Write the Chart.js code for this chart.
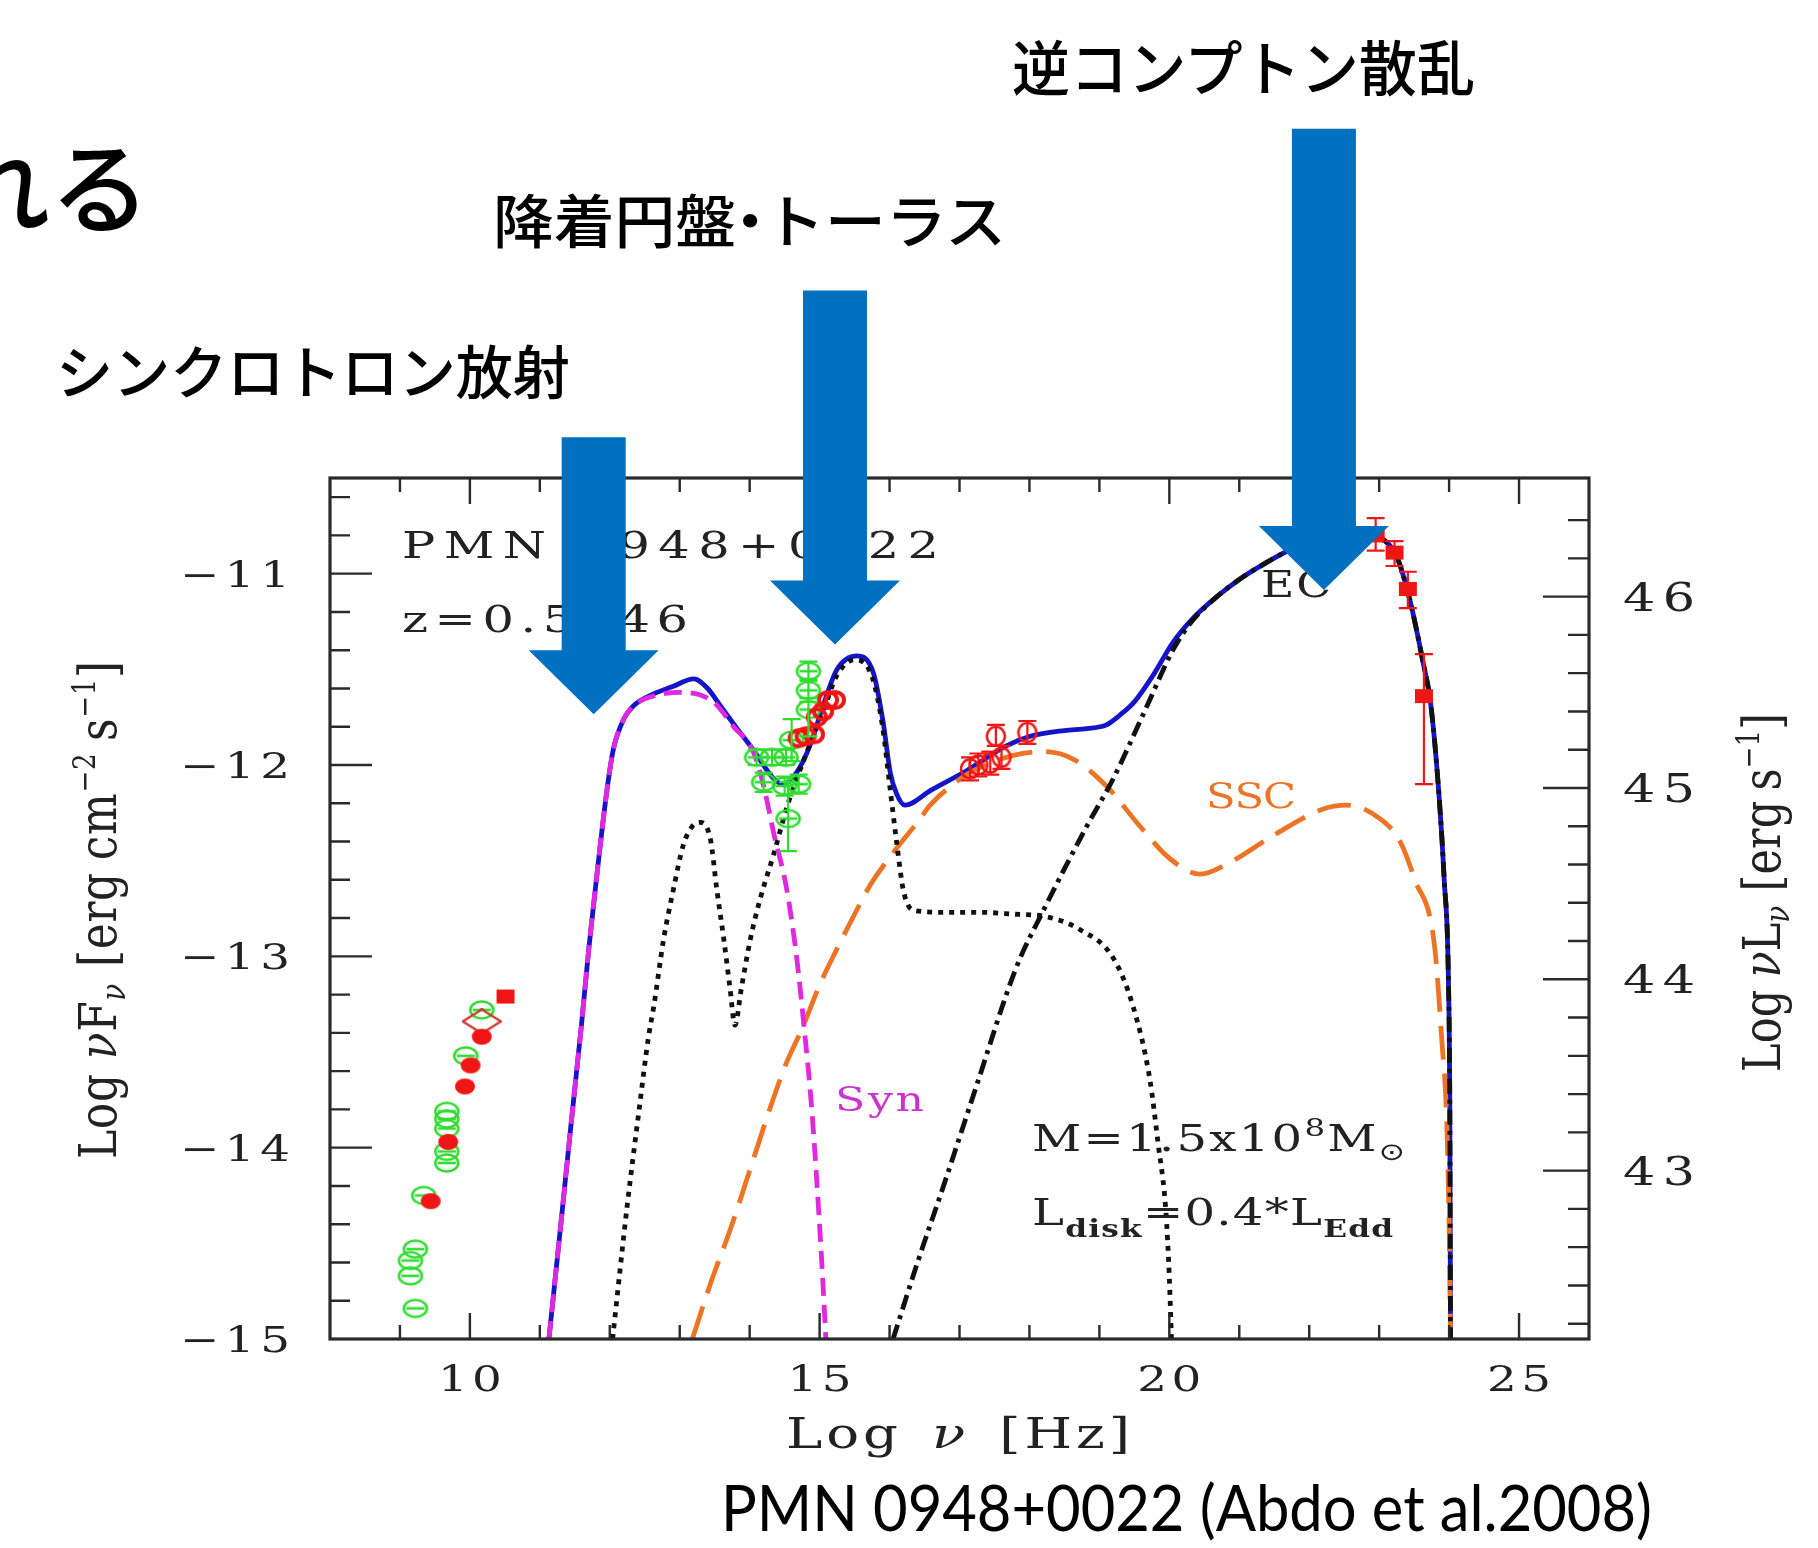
<!DOCTYPE html>
<html>
<head>
<meta charset="utf-8">
<script src="https://cdn.jsdelivr.net/npm/chart.js"></script>
<style>
  html, body { margin: 0; padding: 0; background: #fff; }
  #wrap { position: relative; width: 1818px; height: 1548px; overflow: hidden; background: #fff; }
  #sed { position: absolute; left: 0; top: 0; }
  .slide-text { position: absolute; white-space: nowrap; line-height: 1; color: #000; transform-origin: 0 50%; }
  .jp { font-family: "Noto Sans CJK JP", sans-serif; font-weight: 500; }
  .cap { font-family: Lato, "Noto Sans", sans-serif; }
  .dot { margin: 0 -0.27em; }
</style>
</head>
<body>
<div id="wrap">
  <canvas id="sed" width="1818" height="1548"></canvas>
  <div class="slide-text jp" data-r="150" data-cy="183" style="font-size:100px">れる</div>
  <div class="slide-text jp" data-x="1012" data-cy="65" data-w="463" style="font-size:60px">逆コンプトン散乱</div>
  <div class="slide-text jp" data-x="493" data-cy="218" data-w="513" style="font-size:58px">降着円盤<span class="dot">・</span>トーラス</div>
  <div class="slide-text jp" data-x="56" data-cy="369" data-w="514" style="font-size:58px">シンクロトロン放射</div>
  <div class="slide-text cap" data-x="721" data-cy="1507" data-w="931" style="font-size:64px">PMN 0948+0022 (Abdo et al.2008)</div>
</div>
<script>
// ---- axes ----
const xTicks  = [10, 15, 20, 25];
const yTicks  = [-11, -12, -13, -14, -15];
const y2Ticks = [43, 44, 45, 46];
const lumOffset = 57.12;   // log nuL_nu - log nuF_nu

// ---- model curves (log nu, log nuF_nu) ----
const totalX = [11.13, 11.32, 11.44, 11.60, 11.70, 11.82, 11.96, 12.05, 12.20, 12.34, 12.62, 12.90, 13.20, 13.40, 13.58, 13.80, 14.05, 14.34, 14.48, 14.67, 14.86, 15.05, 15.25, 15.53, 15.77, 15.91, 16.01, 16.10, 16.22, 16.60, 17.10, 17.67, 18.01, 18.50, 18.82, 19.10, 19.29, 19.50, 19.77, 20.05, 20.32, 20.68, 21.00, 21.35, 21.70, 22.00, 22.40, 22.70, 22.96, 23.25, 23.44, 23.62, 23.74, 23.86, 23.93, 23.99, 24.01, 24.02];
const totalY = [-15.00, -14.33, -13.90, -13.34, -12.96, -12.56, -12.13, -11.92, -11.76, -11.69, -11.63, -11.59, -11.55, -11.60, -11.69, -11.80, -11.92, -12.07, -12.10, -12.04, -11.90, -11.69, -11.50, -11.43, -11.52, -11.78, -12.04, -12.15, -12.21, -12.13, -12.03, -11.90, -11.85, -11.82, -11.81, -11.79, -11.74, -11.67, -11.53, -11.36, -11.24, -11.12, -11.03, -10.95, -10.88, -10.84, -10.79, -10.77, -10.80, -10.91, -11.14, -11.45, -11.69, -12.18, -12.60, -13.12, -13.80, -15.00];

const synX = [11.13, 11.32, 11.44, 11.60, 11.70, 11.82, 11.96, 12.05, 12.20, 12.34, 12.62, 13.01, 13.48, 13.77, 14.05, 14.20, 14.34, 14.53, 14.67, 14.77, 14.89, 15.02, 15.09];
const synY = [-15.00, -14.33, -13.90, -13.34, -12.96, -12.56, -12.13, -11.92, -11.76, -11.69, -11.64, -11.62, -11.67, -11.80, -11.93, -12.11, -12.35, -12.65, -13.00, -13.34, -13.81, -14.53, -15.00];

const diskX = [12.04, 12.25, 12.42, 12.55, 12.63, 12.77, 12.91, 13.05, 13.18, 13.29, 13.44, 13.53, 13.63, 13.72, 13.79, 13.88, 14.01, 14.15, 14.34, 14.55, 14.80, 15.05, 15.25, 15.50, 15.75, 15.90, 16.00, 16.10, 16.20, 16.35, 16.80, 17.30, 17.80, 18.20, 18.72, 19.20, 19.48, 19.72, 19.84, 19.95, 20.00, 20.03];
const diskY = [-15.00, -14.30, -13.80, -13.43, -13.26, -12.91, -12.65, -12.42, -12.32, -12.30, -12.39, -12.65, -12.91, -13.17, -13.36, -13.17, -12.91, -12.70, -12.47, -12.20, -11.95, -11.72, -11.53, -11.45, -11.54, -11.80, -12.10, -12.40, -12.66, -12.76, -12.77, -12.77, -12.78, -12.79, -12.86, -13.01, -13.26, -13.64, -13.98, -14.33, -14.68, -15.00];

const sscX = [13.18, 13.45, 13.73, 14.00, 14.24, 14.50, 14.77, 15.00, 15.25, 15.50, 15.72, 16.05, 16.44, 16.58, 17.15, 17.77, 18.20, 18.63, 19.10, 19.58, 20.01, 20.44, 20.86, 21.48, 22.20, 22.53, 23.01, 23.30, 23.51, 23.79, 23.90, 23.96, 24.00, 24.02];
const sscY = [-15.00, -14.70, -14.42, -14.12, -13.85, -13.58, -13.36, -13.15, -12.96, -12.78, -12.63, -12.46, -12.28, -12.21, -12.04, -11.95, -11.93, -11.97, -12.11, -12.32, -12.49, -12.57, -12.51, -12.37, -12.23, -12.21, -12.28, -12.40, -12.60, -12.94, -13.46, -13.81, -14.40, -15.00];

const ecX = [16.05, 16.40, 16.79, 17.24, 17.81, 18.20, 18.82, 19.20, 19.67, 20.05, 20.32, 20.68, 21.00, 21.35, 21.70, 22.00, 22.40, 22.70, 22.96, 23.25, 23.44, 23.62, 23.74, 23.86, 23.93, 23.99, 24.01, 24.02];
const ecY = [-15.00, -14.60, -14.18, -13.68, -13.06, -12.76, -12.32, -12.07, -11.70, -11.40, -11.25, -11.12, -11.03, -10.95, -10.88, -10.84, -10.79, -10.77, -10.80, -10.91, -11.14, -11.45, -11.69, -12.18, -12.60, -13.12, -13.80, -15.00];

// ---- observed points ----
const radioGreenX = [9.22, 9.15, 9.15, 9.22, 9.34, 9.67, 9.67, 9.67, 9.67, 9.67, 9.94, 10.17];
const radioGreenY = [-14.84, -14.67, -14.59, -14.53, -14.25, -14.08, -14.02, -13.90, -13.85, -13.81, -13.52, -13.28];

const radioRedX = [9.44, 9.69, 9.93, 10.01, 10.17];
const radioRedY = [-14.28, -13.97, -13.68, -13.57, -13.42];

const radioSqX = [10.51];
const radioSqY = [-13.21];

const diamondX = [10.17];
const diamondY = [-13.34];

const optGreenX  = [14.10, 14.32, 14.52, 14.20, 14.50, 14.70, 14.55, 14.60, 14.84, 14.84, 14.84];
const optGreenY  = [-11.96, -11.96, -11.96, -12.09, -12.11, -12.10, -12.28, -11.87, -11.71, -11.61, -11.51];
const optGreenLo = [-12.00, -12.00, -12.00, -12.14, -12.16, -12.15, -12.45, -11.98, -11.85, -11.67, -11.56];
const optGreenHi = [-11.92, -11.92, -11.92, -12.04, -12.06, -12.05, -12.09, -11.76, -11.65, -11.55, -11.46];

const optRedX = [14.70, 14.80, 14.92, 14.96, 15.05, 15.12, 15.22];
const optRedY = [-11.86, -11.85, -11.84, -11.75, -11.72, -11.66, -11.66];

const xrayX  = [17.15, 17.27, 17.44, 17.60, 17.52, 17.97];
const xrayY  = [-12.02, -12.00, -11.99, -11.96, -11.85, -11.83];
const xrayLo = [-12.08, -12.06, -12.05, -12.02, -11.90, -11.89];
const xrayHi = [-11.96, -11.94, -11.93, -11.90, -11.79, -11.77];

const fermiX  = [22.95, 23.22, 23.41, 23.64];
const fermiY  = [-10.80, -10.89, -11.08, -11.64];
const fermiLo = [-10.88, -10.96, -11.18, -12.10];
const fermiHi = [-10.71, -10.83, -10.99, -11.42];

// slide arrows, in data units: centre, top of shaft, tip
const arrowX   = [11.77, 15.22, 22.21];
const arrowTop = [-10.287, -9.52, -8.674];
const arrowTip = [-11.735, -11.37, -11.085];

// ---- styles ----
const blue = '#1414c8', magenta = '#e028e0', orange = '#ec7424', green = '#30dc30', red = '#f01616', ink = '#222';
const serif = '"DejaVu Serif", "Liberation Serif", serif';

const pts = (xs, ys) => xs.map((v, i) => ({ x: v, y: ys[i] }));

function marker(w, h, paint) {
  const c = document.createElement('canvas');
  c.width = w; c.height = h;
  paint(c.getContext('2d'), w, h);
  return c;
}

const greenRing = marker(28, 22, (g, w, h) => {
  g.strokeStyle = green; g.lineWidth = 2.6;
  g.beginPath(); g.ellipse(w / 2, h / 2, 11.5, 8.5, 0, 0, Math.PI * 2); g.stroke();
  g.beginPath(); g.moveTo(5, h / 2); g.lineTo(w - 5, h / 2); g.stroke();
});
const redDot = marker(22, 18, (g, w, h) => {
  g.fillStyle = red;
  g.beginPath(); g.ellipse(w / 2, h / 2, 10, 8, 0, 0, Math.PI * 2); g.fill();
});
const redSq = marker(20, 16, (g, w, h) => { g.fillStyle = red; g.fillRect(1, 1, w - 2, h - 2); });
const redRing = marker(24, 22, (g, w, h) => {
  g.strokeStyle = red; g.lineWidth = 4;
  g.beginPath(); g.ellipse(w / 2, h / 2, 9, 8, 0, 0, Math.PI * 2); g.stroke();
});
const xrayRing = marker(22, 22, (g, w, h) => {
  g.strokeStyle = red; g.lineWidth = 2.6;
  g.beginPath(); g.ellipse(w / 2, h / 2, 9, 9.5, 0, 0, Math.PI * 2); g.stroke();
});
const diamond = marker(40, 26, (g, w, h) => {
  g.strokeStyle = '#c83a2a'; g.lineWidth = 2.4;
  g.beginPath(); g.moveTo(1, h / 2); g.lineTo(w / 2, 1); g.lineTo(w - 1, h / 2); g.lineTo(w / 2, h - 1); g.closePath(); g.stroke();
});

function curve(label, xs, ys, color, dash, order) {
  return {
    label, data: pts(xs, ys), showLine: true,
    borderColor: color, borderWidth: 4.8, borderDash: dash, borderCapStyle: 'butt',
    pointRadius: 0, fill: false, cubicInterpolationMode: 'monotone', order
  };
}
function points(label, xs, ys, mark, order, extra) {
  return Object.assign({ label, data: pts(xs, ys), showLine: false, pointStyle: mark, pointRadius: 8, order }, extra || {});
}

// text drawn glyph by glyph so it can be stretched / spread like the original figure
function drawText(ctx, segs, x, y, o = {}) {
  const sx = o.sx || 1, sy = o.sy || 1;
  const items = [];
  let natural = 0;
  segs.forEach(s => {
    const font = `${s.italic ? 'italic ' : ''}${s.bold ? 'bold ' : ''}${s.size}px ${s.family || serif}`;
    ctx.font = font;
    natural += s.gap || 0;
    [...s.t].forEach((ch, i) => {
      const w = ctx.measureText(ch).width * sx;
      items.push({ ch, w, font, dy: s.dy || 0, gap: i === 0 ? (s.gap || 0) : 0 });
      natural += w;
    });
  });
  const ls = o.width ? (o.width - natural) / Math.max(1, items.length - 1) : (o.ls || 0);
  const total = natural + ls * (items.length - 1);
  ctx.save();
  ctx.translate(x, y);
  if (o.rot) ctx.rotate(o.rot);
  ctx.fillStyle = o.color || ink;
  ctx.textAlign = 'left';
  ctx.textBaseline = 'alphabetic';
  let cx = o.align === 'center' ? -total / 2 : o.align === 'right' ? -total : 0;
  items.forEach(it => {
    cx += it.gap;
    ctx.font = it.font;
    ctx.save();
    ctx.translate(cx, it.dy);
    ctx.scale(sx, sy);
    ctx.fillText(it.ch, 0, 0);
    ctx.restore();
    cx += it.w + ls;
  });
  ctx.restore();
}

const errorBars = {
  id: 'errorBars',
  afterDatasetsDraw(chart) {
    const { ctx, scales: { x, y } } = chart;
    chart.data.datasets.forEach(ds => {
      if (!ds.errLo) return;
      ctx.save();
      ctx.strokeStyle = ds.errColor;
      ctx.lineWidth = 2.2;
      ds.data.forEach((p, i) => {
        const px = x.getPixelForValue(p.x);
        const y0 = y.getPixelForValue(ds.errLo[i]), y1 = y.getPixelForValue(ds.errHi[i]);
        const cap = ds.errCap;
        ctx.beginPath();
        ctx.moveTo(px, y0); ctx.lineTo(px, y1);
        ctx.moveTo(px - cap, y0); ctx.lineTo(px + cap, y0);
        ctx.moveTo(px - cap, y1); ctx.lineTo(px + cap, y1);
        ctx.stroke();
      });
      ctx.restore();
    });
  }
};

const frame = {
  id: 'frame',
  afterDraw(chart) {
    const { ctx, chartArea: a, scales: { x, y, y2 } } = chart;

    ctx.save();
    ctx.strokeStyle = '#2a2a2a';
    // inward ticks
    ctx.lineWidth = 2.4;
    ctx.beginPath();
    for (let v = Math.ceil(x.min + 0.5); v < x.max; v++) {
      const px = x.getPixelForValue(v), len = xTicks.includes(v) ? 26 : 14;
      ctx.moveTo(px, a.bottom); ctx.lineTo(px, a.bottom - len);
      ctx.moveTo(px, a.top); ctx.lineTo(px, a.top + len);
    }
    for (let k = 1; k <= 22; k++) {
      const v = y.min + k * 0.2, py = y.getPixelForValue(v);
      const len = Math.abs(v - Math.round(v)) < 1e-6 ? 42 : 20;
      ctx.moveTo(a.left, py); ctx.lineTo(a.left + len, py);
    }
    for (let k = 1; k <= 22; k++) {
      const v = Math.ceil(y2.min * 5) / 5 + (k - 1) * 0.2;
      if (v >= y2.max) break;
      const py = y2.getPixelForValue(v);
      const len = Math.abs(v - Math.round(v)) < 1e-6 ? 46 : 21;
      ctx.moveTo(a.right, py); ctx.lineTo(a.right - len, py);
    }
    ctx.stroke();
    ctx.lineWidth = 3.2;
    ctx.strokeRect(a.left, a.top, a.width, a.height);
    ctx.restore();

    // tick labels
    yTicks.forEach(v => drawText(ctx, [{ t: '\u2212' + Math.abs(v), size: 36 }], 290, y.getPixelForValue(v) + 13, { width: 110, align: 'right', sx: 1.3 }));
    xTicks.forEach(v => drawText(ctx, [{ t: String(v), size: 36 }], x.getPixelForValue(v), 1391, { width: 64, align: 'center', sx: 1.3 }));
    y2Ticks.forEach(v => drawText(ctx, [{ t: String(v), size: 39 }], 1623, y2.getPixelForValue(v) + 14, { width: 72, sx: 1.3 }));

    // axis titles
    drawText(ctx, [{ t: 'Log', size: 42 }, { t: '\u03bd', size: 42, italic: true, gap: 30 }, { t: '[Hz]', size: 42, gap: 30 }],
      786, 1448, { width: 344, sx: 1.3 });
    drawText(ctx, [
      { t: 'Log', size: 44 }, { t: '\u03bd', size: 44, italic: true, gap: 14 }, { t: 'F', size: 44 },
      { t: '\u03bd', size: 28, italic: true, dy: 9 }, { t: '[erg', size: 44, gap: 16 }, { t: 'cm', size: 44, gap: 12 },
      { t: '\u22122', size: 26, dy: -21 }, { t: 's', size: 44, gap: 12 }, { t: '\u22121', size: 26, dy: -21 }, { t: ']', size: 44 }
    ], 116, 1159, { width: 498, rot: -Math.PI / 2, sy: 1.2 });
    drawText(ctx, [
      { t: 'Log', size: 43 }, { t: '\u03bd', size: 43, italic: true, gap: 12 }, { t: 'L', size: 43 },
      { t: '\u03bd', size: 28, italic: true, dy: 9 }, { t: '[erg', size: 43, gap: 14 }, { t: 's', size: 43, gap: 10 },
      { t: '\u22121', size: 26, dy: -21 }, { t: ']', size: 43 }
    ], 1780, 1072, { width: 359, rot: -Math.PI / 2, sy: 1.2 });

    // figure annotations
    drawText(ctx, [{ t: 'PMN 0948+0022', size: 38 }], 402, 558, { width: 537, sx: 1.3 });
    drawText(ctx, [{ t: 'z=0.5846', size: 38 }], 402, 632, { width: 286, sx: 1.3 });
    drawText(ctx, [{ t: 'EC', size: 38 }], 1261, 597, { ls: 2, sx: 1.2 });
    drawText(ctx, [{ t: 'SSC', size: 36 }], 1206, 808, { width: 90, sx: 1.2, color: orange });
    drawText(ctx, [{ t: 'Syn', size: 34 }], 835, 1111, { width: 89, sx: 1.3, color: '#cc33cc' });
    drawText(ctx, [{ t: 'M=1.5x10', size: 37 }, { t: '8', size: 25, dy: -15 }, { t: 'M', size: 37 }, { t: '\u2299', size: 24, dy: 9, family: '"DejaVu Sans", sans-serif' }],
      1032, 1151, { width: 373, sx: 1.3 });
    drawText(ctx, [{ t: 'L', size: 37 }, { t: 'disk', size: 24, dy: 12, bold: true }, { t: '=0.4*L', size: 37 }, { t: 'Edd', size: 24, dy: 12, bold: true }],
      1032, 1225, { width: 361, sx: 1.3 });

    // slide arrows on top of everything
    ctx.save();
    ctx.fillStyle = '#0070c0';
    arrowX.forEach((v, i) => {
      const cx = x.getPixelForValue(v);
      const top = y.getPixelForValue(arrowTop[i]), tip = y.getPixelForValue(arrowTip[i]);
      const base = tip - 64;
      ctx.beginPath();
      ctx.moveTo(cx - 32, top); ctx.lineTo(cx + 32, top); ctx.lineTo(cx + 32, base);
      ctx.lineTo(cx + 65, base); ctx.lineTo(cx, tip); ctx.lineTo(cx - 65, base);
      ctx.lineTo(cx - 32, base); ctx.closePath();
      ctx.fill();
    });
    ctx.restore();
  }
};

const ctx = document.getElementById('sed').getContext('2d');
new Chart(ctx, {
  type: 'scatter',
  data: {
    datasets: [
      points('Fermi', fermiX, fermiY, redSq, 0, { errLo: fermiLo, errHi: fermiHi, errColor: red, errCap: 9 }),
      points('X-ray', xrayX, xrayY, xrayRing, 1, { errLo: xrayLo, errHi: xrayHi, errColor: red, errCap: 9 }),
      points('UV red', optRedX, optRedY, redRing, 2),
      points('UV green', optGreenX, optGreenY, greenRing, 3, { errLo: optGreenLo, errHi: optGreenHi, errColor: green, errCap: 9 }),
      points('radio sq', radioSqX, radioSqY, redSq, 4),
      points('radio red', radioRedX, radioRedY, redDot, 5),
      points('diamond', diamondX, diamondY, diamond, 6),
      points('radio green', radioGreenX, radioGreenY, greenRing, 7),
      curve('EC', ecX, ecY, '#111', [15, 6, 4, 6], 10),
      curve('Syn', synX, synY, magenta, [18, 9], 11),
      curve('disk', diskX, diskY, '#111', [5, 6], 12),
      curve('SSC', sscX, sscY, orange, [34, 14], 13),
      curve('total', totalX, totalY, blue, [], 14)
    ]
  },
  options: {
    responsive: false,
    animation: false,
    devicePixelRatio: 1,
    events: [],
    layout: { padding: { left: 330, right: 229, top: 478, bottom: 209 } },
    scales: {
      x:  { type: 'linear', min: 8, max: 26, display: false },
      y:  { type: 'linear', min: -15, max: -10.5, display: false },
      y2: { type: 'linear', position: 'right', min: -15 + lumOffset, max: -10.5 + lumOffset, display: false }
    },
    plugins: { legend: { display: false }, tooltip: { enabled: false } }
  },
  plugins: [errorBars, frame]
});

// slide texts: stretch each to the width it has on the slide
document.querySelectorAll('.slide-text').forEach(el => {
  const w0 = el.getBoundingClientRect().width;
  if (el.dataset.w) {
    el.style.transform = `scaleX(${(+el.dataset.w / w0).toFixed(4)})`;
    el.style.left = el.dataset.x + 'px';
  } else {
    el.style.left = (+el.dataset.r - w0) + 'px';
  }
  el.style.top = (+el.dataset.cy - el.offsetHeight / 2) + 'px';
});
</script>
</body>
</html>
